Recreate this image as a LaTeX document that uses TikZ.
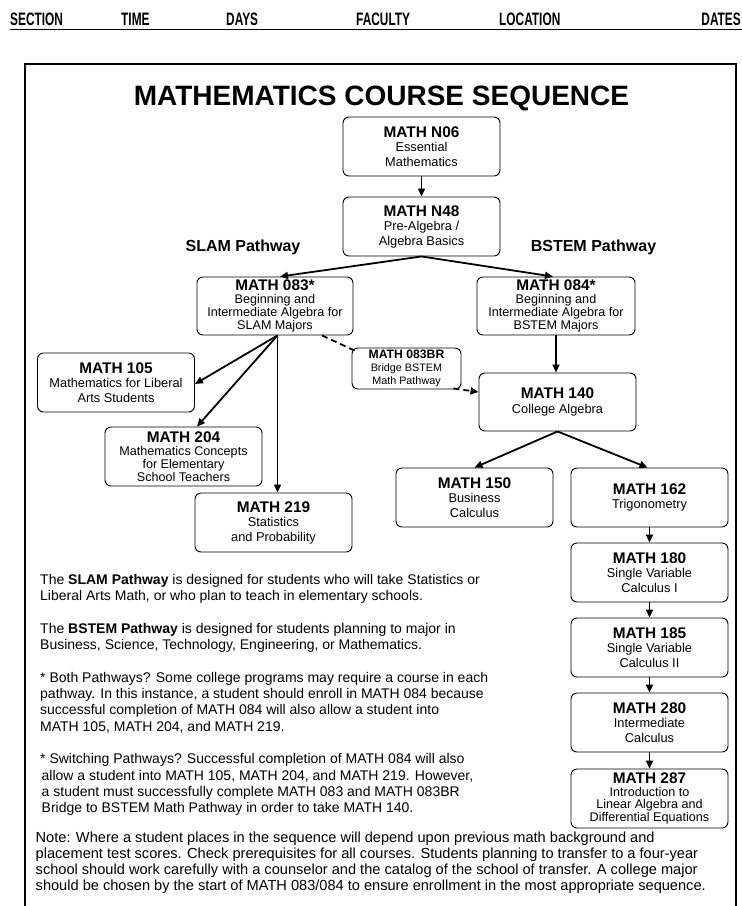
\documentclass[tikz,border=0pt]{standalone}
\usepackage{fontspec}
\setmainfont{Liberation Sans}
\newfontfamily\condfont[FakeStretch=0.66]{Liberation Sans}
\usetikzlibrary{arrows.meta,calc}
\tikzset{
  hdr/.style={anchor=base west, inner sep=0, font=\condfont\bfseries\fontsize{18}{20}\selectfont},
  crs/.style={draw, rounded corners=6pt, line width=0.9pt, minimum width=157pt, minimum height=59pt,
    inner sep=0pt, align=center, font=\fontsize{12.8}{14.5}\selectfont},
  crsfour/.style={crs, font=\fontsize{12.6}{12.8}\selectfont},
  arr/.style={line width=1.8pt, -{Triangle[length=8pt,width=7pt]}},
  dsh/.style={line width=1.8pt, dash pattern=on 6pt off 4pt},
  para/.style={anchor=base west, inner sep=0pt, font=\fontsize{14}{16}\selectfont},
  notepara/.style={para, font=\fontsize{14.6}{16}\selectfont},
  pathlbl/.style={anchor=base, inner sep=0pt, font=\bfseries\fontsize{16}{18}\selectfont}
}
\newcommand{\ct}[1]{{\bfseries\fontsize{15.4}{16}\selectfont #1}}
\begin{document}
\begin{tikzpicture}[x=1pt,y=-1pt]
\useasboundingbox (0,0) rectangle (742,906);
\fill[white] (0,0) rectangle (742,906);

% header
\node[hdr] (hsec) at (10,25) {SECTION};
\node[hdr] (htime) at (121,25) {TIME};
\node[hdr] (hdays) at (226,25) {DAYS};
\node[hdr] (hfac) at (356,25) {FACULTY};
\node[hdr] (hloc) at (499,25) {LOCATION};
\node[hdr, anchor=base east] (hdates) at (741,25) {DATES};
\coordinate (rl) at (10,29.5);
\coordinate (rr) at (742,29.5);
\draw[line width=1.5pt] (rl) -- (rr);

% frame
\coordinate (fbl) at (25,906);
\coordinate (ftl) at (25,64);
\coordinate (ftr) at (736,64);
\coordinate (fbr) at (736,906);
\draw[line width=2.2pt] (fbl) -- (ftl) -- (ftr) -- (fbr);

% title
\node[anchor=base, inner sep=0pt, font=\bfseries\fontsize{28}{30}\selectfont] (title) at (381.5,105) {MATHEMATICS COURSE SEQUENCE};

% boxes
\node[crs] (n06) at (421.5,146.5) {\ct{MATH N06}\\Essential\\Mathematics};
\node[crs] (n48) at (421.5,226.5) {\ct{MATH N48}\\Pre-Algebra /\\Algebra Basics};
\node[crsfour, minimum width=156pt, minimum height=58pt] (m083) at (275,306) {\ct{MATH 083*}\\Beginning and\\Intermediate Algebra for\\SLAM Majors};
\node[crsfour, minimum width=158pt, minimum height=58pt] (m084) at (556,306) {\ct{MATH 084*}\\Beginning and\\Intermediate Algebra for\\BSTEM Majors};
\node[crs] (m105) at (116,382.5) {\ct{MATH 105}\\Mathematics for Liberal\\Arts Students};
\node[crs, minimum width=109pt, minimum height=41pt, font=\fontsize{10.8}{13}\selectfont] (m83br) at (406.5,368.5) {{\bfseries\fontsize{12.2}{13}\selectfont MATH 083BR}\\Bridge BSTEM\\Math Pathway};
\node[crs, minimum height=58pt] (m140) at (557.5,402) {\ct{MATH 140}\\College Algebra};
\node[crsfour] (m204) at (183.5,456.5) {\ct{MATH 204}\\Mathematics Concepts\\for Elementary\\School Teachers};
\node[crs] (m219) at (273.5,522.5) {\ct{MATH 219}\\Statistics\\and Probability};
\node[crs] (m150) at (474.5,497.5) {\ct{MATH 150}\\Business\\Calculus};
\node[crs] (m162) at (649.5,497.5) {\ct{MATH 162}\\Trigonometry};
\node[crs] (m180) at (649.5,572.5) {\ct{MATH 180}\\Single Variable\\Calculus I};
\node[crs] (m185) at (649.5,647.5) {\ct{MATH 185}\\Single Variable\\Calculus II};
\node[crs] (m280) at (649.5,722.5) {\ct{MATH 280}\\Intermediate\\Calculus};
\node[crsfour] (m287) at (649.5,798.5) {\ct{MATH 287}\\Introduction to\\Linear Algebra and\\Differential Equations};

% pathway labels
\node[pathlbl] (slam) at (243,251.5) {SLAM Pathway};
\node[pathlbl] (bstem) at (593.5,251.5) {BSTEM Pathway};

% connectors
\draw[arr] (n06) -- (n48);
\draw[arr] (n48.south) -- ($(m083.north)+(5,0)$);
\draw[arr] (n48.south) -- ($(m084.north)+(-3,0)$);
\coordinate (o83) at ($(m083.south)+(2.5,0)$);
\draw[arr] (o83) -- ($(m105.east)+(0,1.5)$);
\draw[arr] (o83) -- ($(m204.north)+(13.5,0)$);
\draw[arr] (o83) -- (o83 |- m219.north);
\draw[dsh] ($(m083.south)+(47,0)$) -- ($(m83br.north west)+(3,3)$);
\draw[dsh, -{Triangle[length=8pt,width=7pt]}] ($(m83br.south east)+(-8,-1)$) -- ($(m140.west)+(0,-10)$);
\draw[arr] (m084) -- (m084 |- m140.north);
\draw[arr] (m140.south) -- (m150.north);
\draw[arr] (m140.south) -- ($(m162.north)+(-2,0)$);
\draw[arr] (m162) -- (m180);
\draw[arr] (m180) -- (m185);
\draw[arr] (m185) -- (m280);
\draw[arr] (m280) -- (m287);

% paragraphs
\node[para] (t1) at (40,584.5) {The \textbf{SLAM Pathway} is designed for students who will take Statistics or};
\node[para] (t2) at (40,600.8) {Liberal Arts Math, or who plan to teach in elementary schools.};
\node[para] (t3) at (40,633.4) {The \textbf{BSTEM Pathway} is designed for students planning to major in};
\node[para] (t4) at (40,649.7) {Business, Science, Technology, Engineering, or Mathematics.};
\node[para] (t5) at (40,682.3) {* Both Pathways? Some college programs may require a course in each};
\node[para] (t6) at (40,698.6) {pathway. In this instance, a student should enroll in MATH 084 because};
\node[para] (t7) at (40,714.9) {successful completion of MATH 084 will also allow a student into};
\node[para] (t8) at (40,731.2) {MATH 105, MATH 204, and MATH 219.};
\node[para] (t9) at (40,763.8) {* Switching Pathways? Successful completion of MATH 084 will also};
\node[para] (t10) at (41.5,780.1) {allow a student into MATH 105, MATH 204, and MATH 219. However,};
\node[para] (t11) at (41.5,796.4) {a student must successfully complete MATH 083 and MATH 083BR};
\node[para] (t12) at (41.5,812.7) {Bridge to BSTEM Math Pathway in order to take MATH 140.};
\node[notepara] (t13) at (35.5,842) {Note: Where a student places in the sequence will depend upon previous math background and};
\node[notepara] (t14) at (35.5,858.3) {placement test scores. Check prerequisites for all courses. Students planning to transfer to a four-year};
\node[notepara] (t15) at (35.5,874.6) {school should work carefully with a counselor and the catalog of the school of transfer. A college major};
\node[notepara] (t16) at (35.5,890.9) {should be chosen by the start of MATH 083/084 to ensure enrollment in the most appropriate sequence.};
\end{tikzpicture}
\end{document}
